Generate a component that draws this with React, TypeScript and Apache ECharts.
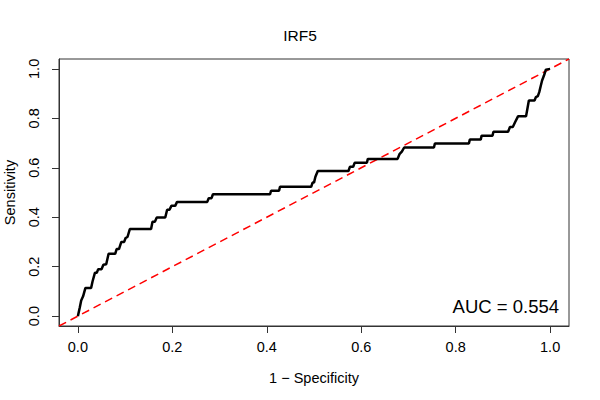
import React, { useEffect, useRef } from "react";
import * as echarts from "echarts";

const fpr = [
  0, 0.004, 0.007, 0.011, 0.016, 0.028, 0.031, 0.036, 0.04, 0.043, 0.05, 0.054, 0.06, 0.065, 0.079, 0.082,
  0.087, 0.092, 0.098, 0.101, 0.105, 0.11, 0.155, 0.158, 0.163, 0.167, 0.185, 0.189, 0.194, 0.198, 0.206,
  0.21, 0.274, 0.277, 0.283, 0.286, 0.407, 0.409, 0.426, 0.428, 0.494, 0.497, 0.5, 0.503, 0.508, 0.573,
  0.576, 0.583, 0.586, 0.612, 0.614, 0.677, 0.681, 0.686, 0.691, 0.754, 0.756, 0.828, 0.83, 0.853, 0.855,
  0.878, 0.88, 0.911, 0.915, 0.921, 0.926, 0.932, 0.949, 0.952, 0.955, 0.967, 0.97, 0.974, 0.977, 0.98,
  0.983, 0.987, 0.991, 1.0,
];
const tpr = [
  0, 0.035, 0.063, 0.08, 0.114, 0.114, 0.14, 0.175, 0.175, 0.19, 0.19, 0.208, 0.21, 0.252, 0.252, 0.271,
  0.271, 0.3, 0.3, 0.316, 0.32, 0.352, 0.352, 0.382, 0.382, 0.399, 0.399, 0.43, 0.43, 0.446, 0.446,
  0.462, 0.462, 0.477, 0.477, 0.493, 0.493, 0.507, 0.507, 0.523, 0.523, 0.54, 0.54, 0.564, 0.587, 0.587,
  0.604, 0.604, 0.62, 0.62, 0.636, 0.636, 0.655, 0.665, 0.682, 0.682, 0.698, 0.698, 0.714, 0.714, 0.73,
  0.73, 0.746, 0.746, 0.765, 0.765, 0.785, 0.808, 0.808, 0.84, 0.872, 0.872, 0.886, 0.89, 0.906, 0.93,
  0.953, 0.973, 0.997, 1.0,
];
const tickValues = [0, 0.2, 0.4, 0.6, 0.8, 1.0];
const diagonal = [-0.04, 1.04];
const titleText = "IRF5";
const aucText = "AUC = 0.554";
const xName = "1 \u2212 Specificity";
const yName = "Sensitivity";

const FONT = "Liberation Sans, Arial, Helvetica, sans-serif";

export default function App() {
  const ref = useRef<HTMLDivElement>(null);
  useEffect(() => {
    if (!ref.current) return;
    const chart = echarts.init(ref.current, undefined, { renderer: "svg" });
    const axisCommon = {
      type: "value" as const,
      min: -0.04,
      max: 1.04,
      nameLocation: "middle" as const,
      nameTextStyle: { fontSize: 14.5, color: "#000", fontFamily: FONT },
      axisLine: { show: true, onZero: false, lineStyle: { color: "#333", width: 1 } },
      axisTick: {
        show: true,
        inside: false,
        length: 7,
        customValues: tickValues,
        lineStyle: { color: "#333", width: 1 },
      },
      axisLabel: {
        customValues: tickValues,
        formatter: (v: number) => v.toFixed(1),
        fontSize: 14.5,
        color: "#000",
        fontFamily: FONT,
      },
      splitLine: { show: false },
    };
    chart.setOption({
      animation: false,
      backgroundColor: "#fff",
      title: {
        text: titleText,
        left: "center",
        top: 22,
        textStyle: { fontSize: 15.5, fontWeight: "normal", color: "#000", fontFamily: FONT },
      },
      grid: {
        left: 59,
        right: 31,
        top: 59,
        bottom: 74,
        show: true,
        borderColor: "#333",
        borderWidth: 1,
        containLabel: false,
        outerBoundsMode: "none",
      },
      xAxis: {
        ...axisCommon,
        name: xName,
        nameGap: 44,
        axisLabel: { ...axisCommon.axisLabel, margin: 13 },
      },
      yAxis: {
        ...axisCommon,
        name: yName,
        nameGap: 42,
        axisLabel: { ...axisCommon.axisLabel, rotate: 90, margin: 18 },
      },
      graphic: [
        {
          type: "text",
          right: 41,
          top: 297,
          style: { text: aucText, fontSize: 18.5, fill: "#000", fontFamily: FONT },
        },
      ],
      series: [
        {
          type: "line",
          data: diagonal.map((v) => [v, v]),
          symbol: "none",
          lineStyle: { color: "#ff0000", width: 1.5, type: [8, 5] },
          silent: true,
          z: 1,
        },
        {
          type: "line",
          data: fpr.map((x, i) => [x, tpr[i]]),
          symbol: "none",
          lineStyle: { color: "#000", width: 2.5 },
          silent: true,
          z: 2,
        },
      ],
    });
    return () => chart.dispose();
  }, []);
  return (
    <div
      ref={ref}
      style={{ position: "fixed", left: 0, top: 0, width: 600, height: 400, background: "#fff" }}
    />
  );
}
